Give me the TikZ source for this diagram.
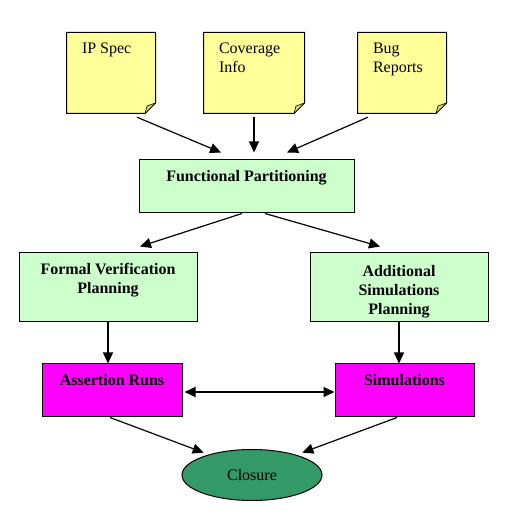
\documentclass[tikz,border=0pt]{standalone}
\usepackage{fontspec}
\setmainfont{Liberation Serif}
\usetikzlibrary{arrows.meta,shapes.geometric}
\definecolor{notefill}{HTML}{FFFF99}
\definecolor{foldfill}{HTML}{D6D67A}
\definecolor{planfill}{HTML}{CCFFCC}
\definecolor{runfill}{HTML}{FF00FF}
\definecolor{goalfill}{HTML}{339966}
\begin{document}
\begin{tikzpicture}
[
  x=1pt, y=-1pt,
  every label/.style={inner sep=0pt, font=\fontsize{16}{19}\selectfont, align=center},
  note/.style={minimum height=82, inner sep=0pt, path picture={
      \path[fill=notefill, draw=black, line width=1pt]
        ([shift={(0.5,0.5)}]path picture bounding box.north west) --
        ([shift={(-0.5,0.5)}]path picture bounding box.north east) --
        ([shift={(-0.5,-11)}]path picture bounding box.south east) --
        ([shift={(-11,-0.5)}]path picture bounding box.south east) --
        ([shift={(0.5,-0.5)}]path picture bounding box.south west) -- cycle;
      \path[fill=foldfill, draw=black, line width=0.6pt]
        ([shift={(-0.5,-11)}]path picture bounding box.south east) --
        ([shift={(-11,-0.5)}]path picture bounding box.south east) --
        ([shift={(-9,-8)}]path picture bounding box.south east) -- cycle;
  }},
  ntext/.style={anchor=north west, xshift=16pt, yshift=-11pt, align=left},
  btext/.style={anchor=north, yshift=-11pt, font=\fontsize{16}{19}\selectfont\bfseries},
  plan/.style={draw, fill=planfill, line width=1pt, inner sep=0pt},
  run/.style={draw, fill=runfill, line width=1pt, inner sep=0pt},
  goal/.style={ellipse, draw, fill=goalfill, line width=1pt, inner sep=0pt,
    minimum width=140, minimum height=51, font=\fontsize{16}{19}\selectfont},
  arr/.style={-{Triangle[length=11pt,width=10pt]}, line width=1.2pt},
  dbl/.style={{Triangle[length=11pt,width=10pt]}-{Triangle[length=11pt,width=10pt]}, line width=1.2pt}
]
\useasboundingbox (0,0) rectangle (515,513);

% inputs
\node[note, minimum width=90, label={[ntext]north west:IP Spec}] (ip) at (111,73) {};
\node[note, minimum width=102, label={[ntext]north west:{Coverage\\Info}}] (cov) at (254,73) {};
\node[note, minimum width=90, label={[ntext]north west:{Bug\\Reports}}] (bug) at (402,73) {};

% planning
\node[plan, minimum width=215, minimum height=53, label={[btext]north:Functional Partitioning}] (fp) at (246.5,186.5) {};
\node[plan, minimum width=178, minimum height=69, label={[btext]north:{Formal Verification\\Planning}}] (fvp) at (108,287.5) {};
\node[plan, minimum width=178, minimum height=69, label={[btext, yshift=-1.5pt]north:{Additional\\Simulations\\Planning}}] (asp) at (399,287.5) {};

% runs
\node[run, minimum width=140, minimum height=53, label={[btext]north:Assertion Runs}] (ar) at (112,390.5) {};
\node[run, minimum width=139, minimum height=53, label={[btext]north:Simulations}] (sim) at (404.5,390.5) {};
\node[goal] (cl) at (252,475) {Closure};

\draw[arr] ([shift={(26,3)}]ip.south) -- ([shift={(-25.5,-7)}]fp.north);
\draw[arr] ([shift={(0,3)}]cov.south) -- ([shift={(7.5,-7)}]fp.north);
\draw[arr] ([shift={(-34,3)}]bug.south) -- ([shift={(40.5,-7)}]fp.north);
\draw[arr] ([shift={(-4.5,0)}]fp.south) -- ([shift={(32,-6)}]fvp.north);
\draw[arr] ([shift={(18.5,0)}]fp.south) -- ([shift={(-19,-6)}]asp.north);
\draw[arr] (fvp.south) -- (fvp.south |- ar.north);
\draw[arr] (asp.south) -- (asp.south |- sim.north);
\draw[dbl] ([shift={(2,1.5)}]ar.east) -- ([shift={(0,1.5)}]sim.west);
\draw[arr] ([shift={(-2,0)}]ar.south) -- ([shift={(1.5,-4)}]cl.north west);
\draw[arr] ([shift={(-7.5,0)}]sim.south) -- ([shift={(0.5,-4)}]cl.north east);

\end{tikzpicture}
\end{document}
